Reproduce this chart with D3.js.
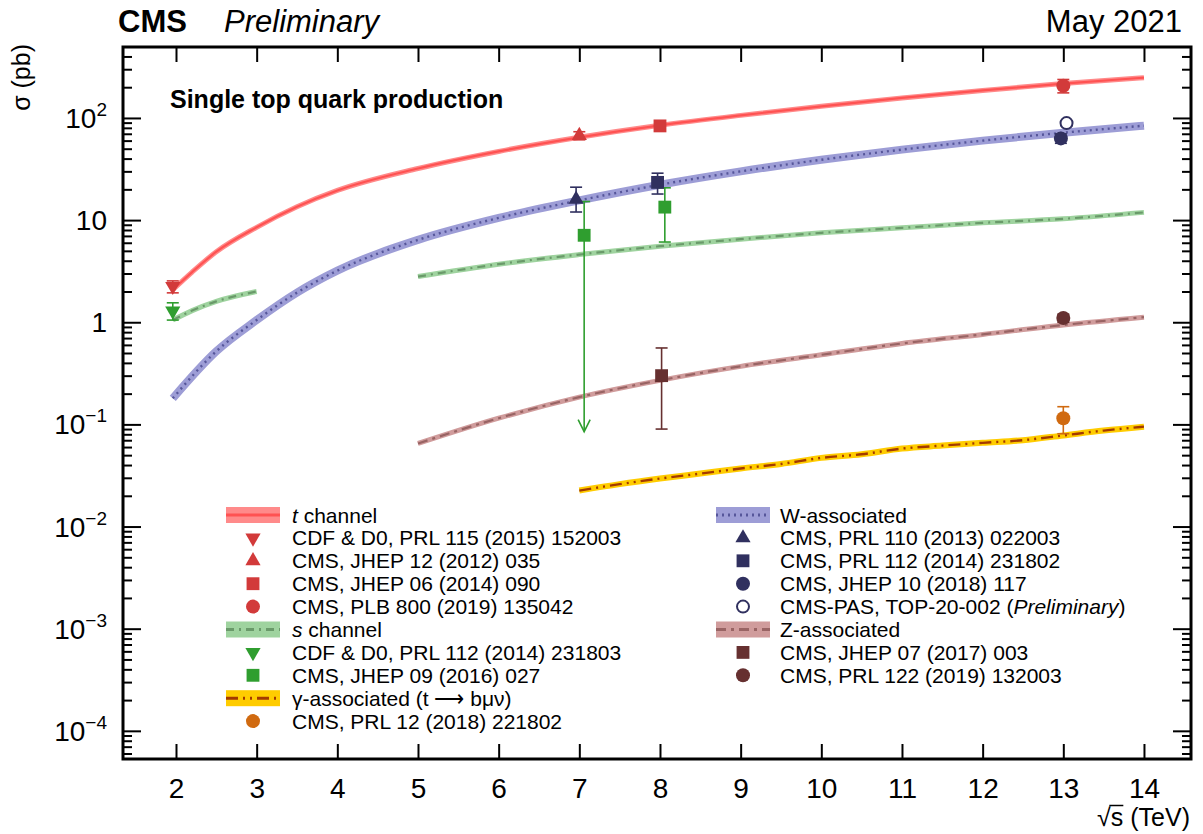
<!DOCTYPE html>
<html>
<head>
<meta charset="utf-8">
<script src="https://cdn.jsdelivr.net/npm/d3@7"></script>
<style>
	body { margin: 0; background: #fff; }
	svg { font-family: "Liberation Sans", Arial, Helvetica, sans-serif; }
</style>
</head>
<body>
<svg id="chart" width="1203" height="834"></svg>
<script>
// ---- theory predictions (pb) vs sqrt(s) (TeV)
const tchX = [1.96, 2.2, 2.5, 3, 3.5, 4, 5, 6, 7, 8, 9, 10, 11, 12, 13, 14]
const tchY = [2.08, 3.1, 4.9, 8.5, 13.5, 19.5, 32, 47, 64.6, 84.7, 106, 130, 157, 186, 217, 248]

const schLowX = [1.96, 2.2, 2.5, 3]
const schLowY = [1.05, 1.3, 1.6, 2.0]
const schX = [5, 6, 7, 8, 9, 10, 11, 12, 13, 14]
const schY = [2.8, 3.7, 4.6, 5.55, 6.5, 7.5, 8.4, 9.4, 10.3, 11.9]

const twX = [1.96, 2.5, 3, 3.5, 4, 5, 6, 7, 8, 9, 10, 11, 12, 13, 14]
const twY = [0.18, 0.52, 1.05, 1.95, 3.2, 6.4, 10.5, 15.6, 22.2, 30, 39, 49, 60, 71.7, 84]

const tzX = [5, 6, 7, 8, 9, 10, 11, 12, 13, 14]
const tzY = [0.065, 0.115, 0.185, 0.27, 0.37, 0.48, 0.62, 0.76, 0.94, 1.12]

const tgX = [7, 7.5, 8, 8.5, 9, 9.5, 10, 10.5, 11, 11.5, 12, 12.5, 13, 13.5, 14]
const tgY = [0.0225, 0.026, 0.0295, 0.033, 0.037, 0.041, 0.047, 0.051, 0.058, 0.062, 0.066, 0.07, 0.078, 0.087, 0.095]

// ---- measurements
const tchMeasX = [1.96, 7, 8, 13]
const tchMeasY = [2.25, 67.2, 83.6, 207]
const tchMeasUp = [0.29, 6.1, 7.7, 31]
const tchMeasDn = [0.31, 6.1, 7.7, 31]
const tchMarkers = ['down', 'up', 'square', 'circle']

const schMeasX = [1.96, 7.06, 8.06]
const schMeasY = [1.29, 7.1, 13.4]
const schMeasUp = [0.26, 8.1, 7.3]
const schMeasDn = [0.24, 0, 7.3]
const schArrowTo = [null, 0.085, null]
const schMarkers = ['down', 'square', 'square']

const twMeasX = [6.96, 7.97, 12.97, 13.04]
const twMeasY = [16, 23.4, 63.1, 89]
const twMeasUp = [5, 5.4, 6.6, 5]
const twMeasDn = [4, 5.4, 6.6, 5]
const twMarkers = ['up', 'square', 'circle', 'open']

const tzMeasX = [8.02, 13]
const tzMeasY = [0.3, 1.1]
const tzMeasUp = [0.26, 0.1]
const tzMeasDn = [0.21, 0.1]
const tzMarkers = ['square', 'circle']

const tgMeasX = [13]
const tgMeasY = [0.115]
const tgMeasUp = [0.034]
const tgMeasDn = [0.034]
const tgMarkers = ['circle']

const xTicks = d3.range(2, 15)
const yDecades = [1e-4, 1e-3, 1e-2, 1e-1, 1, 10, 100]
const yLabels = [['10', '\u22124'], ['10', '\u22123'], ['10', '\u22122'], ['10', '\u22121'], ['1', null], ['10', null], ['10', '2']]

const leftLegend = [
	{ band: 'tch', label: [['t', true], [' channel', false]] },
	{ marker: 'down', color: 'tch', label: [['CDF & D0, PRL 115 (2015) 152003', false]] },
	{ marker: 'up', color: 'tch', label: [['CMS, JHEP 12 (2012) 035', false]] },
	{ marker: 'square', color: 'tch', label: [['CMS, JHEP 06 (2014) 090', false]] },
	{ marker: 'circle', color: 'tch', label: [['CMS, PLB 800 (2019) 135042', false]] },
	{ band: 'sch', label: [['s', true], [' channel', false]] },
	{ marker: 'down', color: 'sch', label: [['CDF & D0, PRL 112 (2014) 231803', false]] },
	{ marker: 'square', color: 'sch', label: [['CMS, JHEP 09 (2016) 027', false]] },
	{ band: 'tg', label: [['\u03b3-associated (t \u27f6 b\u03bc\u03bd)', false]] },
	{ marker: 'circle', color: 'tg', label: [['CMS, PRL 12 (2018) 221802', false]] }
]
const rightLegend = [
	{ band: 'tw', label: [['W-associated', false]] },
	{ marker: 'up', color: 'tw', label: [['CMS, PRL 110 (2013) 022003', false]] },
	{ marker: 'square', color: 'tw', label: [['CMS, PRL 112 (2014) 231802', false]] },
	{ marker: 'circle', color: 'tw', label: [['CMS, JHEP 10 (2018) 117', false]] },
	{ marker: 'open', color: 'tw', label: [['CMS-PAS, TOP-20-002 (', false], ['Preliminary', true], [')', false]] },
	{ band: 'tz', label: [['Z-associated', false]] },
	{ marker: 'square', color: 'tz', label: [['CMS, JHEP 07 (2017) 003', false]] },
	{ marker: 'circle', color: 'tz', label: [['CMS, PRL 122 (2019) 132003', false]] }
]

const styles = {
	tch: { band: '#ff8a8a', line: '#ff5252', width: 5, lw: 2.2, dash: null, mk: '#d23a3a' },
	sch: { band: '#9fd39f', line: '#6a9a6a', width: 5, lw: 2.2, dash: '8,5,2,5', mk: '#2f9e2f' },
	tw: { band: '#9d9dd6', line: '#56569a', width: 8, lw: 2.4, dash: '2,4', mk: '#30305f' },
	tz: { band: '#d09c9c', line: '#996464', width: 5, lw: 2.2, dash: '10,5,3,5', mk: '#663030' },
	tg: { band: '#ffcc00', line: '#a33a00', width: 6, lw: 2.4, dash: '12,5,2,5,2,5', mk: '#d06a10' }
}

const svg = d3.select('#chart')
const frame = { left: 123, right: 1191, top: 47, bottom: 759 }

const x = d3.scaleLinear().domain([1.343, 14.583]).range([frame.left, frame.right])
const y = d3.scaleLog().domain([5.3e-5, 495]).range([frame.bottom, frame.top])

const plot = svg.append('g')

// ---- theory bands
function drawBand(xs, ys, key) {
	const st = styles[key]
	const data = xs.map((v, i) => [v, ys[i]])
	const line = d3.line().x(d => x(d[0])).y(d => y(d[1])).curve(d3.curveMonotoneX)
	plot.append('path').datum(data)
		.attr('fill', 'none').attr('stroke', st.band)
		.attr('stroke-width', st.width).attr('d', line)
	plot.append('path').datum(data)
		.attr('fill', 'none').attr('stroke', st.line)
		.attr('stroke-width', st.lw)
		.attr('stroke-dasharray', st.dash)
		.attr('d', line)
}

drawBand(twX, twY, 'tw')
drawBand(tchX, tchY, 'tch')
drawBand(schLowX, schLowY, 'sch')
drawBand(schX, schY, 'sch')
drawBand(tzX, tzY, 'tz')
drawBand(tgX, tgY, 'tg')

// ---- markers
function drawMarker(g, type, cx, cy, color) {
	if (type === 'circle' || type === 'open') {
		g.append('circle').attr('cx', cx).attr('cy', cy).attr('r', type === 'open' ? 6 : 7)
			.attr('fill', type === 'open' ? '#fff' : color)
			.attr('stroke', color).attr('stroke-width', type === 'open' ? 2 : 0)
	} else if (type === 'square') {
		g.append('path').attr('d', d3.symbol(d3.symbolSquare, 165)())
			.attr('transform', `translate(${cx},${cy})`).attr('fill', color)
	} else {
		g.append('path').attr('d', d3.symbol(d3.symbolTriangle, 100)())
			.attr('transform', `translate(${cx},${cy}) rotate(${type === 'down' ? 180 : 0})`)
			.attr('fill', color)
	}
}

function drawMeasurements(xs, ys, up, dn, markers, key, arrows) {
	const color = styles[key].mk
	xs.forEach((v, i) => {
		const g = plot.append('g')
		const cx = x(v)
		const top = y(ys[i] + up[i])
		const arrowTo = arrows ? arrows[i] : null
		const bot = arrowTo ? y(arrowTo) : y(ys[i] - dn[i])
		g.append('line').attr('x1', cx).attr('x2', cx).attr('y1', top).attr('y2', bot)
			.attr('stroke', color).attr('stroke-width', 1.6)
		g.append('line').attr('x1', cx - 6).attr('x2', cx + 6).attr('y1', top).attr('y2', top)
			.attr('stroke', color).attr('stroke-width', 1.6)
		if (arrowTo) {
			g.append('path').attr('d', `M${cx - 6},${bot - 12}L${cx},${bot}L${cx + 6},${bot - 12}`)
				.attr('fill', 'none').attr('stroke', color).attr('stroke-width', 1.6)
		} else {
			g.append('line').attr('x1', cx - 6).attr('x2', cx + 6).attr('y1', bot).attr('y2', bot)
				.attr('stroke', color).attr('stroke-width', 1.6)
		}
		drawMarker(g, markers[i], cx, y(ys[i]), color)
	})
}

drawMeasurements(tchMeasX, tchMeasY, tchMeasUp, tchMeasDn, tchMarkers, 'tch')
drawMeasurements(schMeasX, schMeasY, schMeasUp, schMeasDn, schMarkers, 'sch', schArrowTo)
drawMeasurements(twMeasX, twMeasY, twMeasUp, twMeasDn, twMarkers, 'tw')
drawMeasurements(tzMeasX, tzMeasY, tzMeasUp, tzMeasDn, tzMarkers, 'tz')
drawMeasurements(tgMeasX, tgMeasY, tgMeasUp, tgMeasDn, tgMarkers, 'tg')

// ---- axes (ticks pointing inside the frame)
const yMinor = []
for (let e = -5; e <= 2; e++) for (let m = 2; m <= 9; m++) {
	const v = m * Math.pow(10, e)
	if (v > y.domain()[0] && v < y.domain()[1]) yMinor.push(v)
}

function styleAxis(g) {
	g.select('.domain').remove()
	g.selectAll('.tick line').attr('stroke', '#000').attr('stroke-width', 2)
}

svg.append('g').attr('transform', `translate(0,${frame.bottom})`)
	.call(d3.axisBottom(x).tickValues(xTicks).tickSize(-15).tickPadding(19))
	.call(styleAxis)
	.call(g => g.selectAll('text').attr('font-size', 28).attr('fill', '#000')
		.attr('font-family', '"Liberation Sans", Arial, sans-serif'))
svg.append('g').attr('transform', `translate(0,${frame.top})`)
	.call(d3.axisTop(x).tickValues(xTicks).tickSize(-15).tickFormat(''))
	.call(styleAxis)

svg.append('g').attr('transform', `translate(${frame.left},0)`)
	.call(d3.axisLeft(y).tickValues(yDecades).tickSize(-18).tickFormat(''))
	.call(styleAxis)
svg.append('g').attr('transform', `translate(${frame.left},0)`)
	.call(d3.axisLeft(y).tickValues(yMinor).tickSize(-9).tickFormat(''))
	.call(styleAxis)
svg.append('g').attr('transform', `translate(${frame.right},0)`)
	.call(d3.axisRight(y).tickValues(yDecades).tickSize(-18).tickFormat(''))
	.call(styleAxis)
svg.append('g').attr('transform', `translate(${frame.right},0)`)
	.call(d3.axisRight(y).tickValues(yMinor).tickSize(-9).tickFormat(''))
	.call(styleAxis)

// y tick labels with superscripts
yDecades.forEach((v, i) => {
	const t = svg.append('text').attr('x', 107).attr('y', y(v) + 10)
		.attr('text-anchor', 'end').attr('font-size', 28)
	t.append('tspan').text(yLabels[i][0])
	if (yLabels[i][1]) {
		t.append('tspan').attr('font-size', 19).attr('dy', -12).text(yLabels[i][1])
	}
})

// frame
svg.append('rect')
	.attr('x', frame.left).attr('y', frame.top)
	.attr('width', frame.right - frame.left).attr('height', frame.bottom - frame.top)
	.attr('fill', 'none').attr('stroke', '#000').attr('stroke-width', 3)

// ---- titles
svg.append('text').attr('x', 118).attr('y', 32).attr('font-size', 31).attr('font-weight', 'bold').text('CMS')
svg.append('text').attr('x', 224).attr('y', 32).attr('font-size', 31).attr('font-style', 'italic').text('Preliminary')
svg.append('text').attr('x', 1182).attr('y', 32).attr('font-size', 31).attr('text-anchor', 'end').text('May 2021')
svg.append('text').attr('x', 170).attr('y', 108).attr('font-size', 25).attr('font-weight', 'bold')
	.text('Single top quark production')

// x title: radical with a bar over the s
const xt = svg.append('text').attr('x', 1190).attr('y', 826).attr('font-size', 25).attr('text-anchor', 'end')
	.text('\u221as (TeV)')
const rad = xt.node().getExtentOfChar(0)
const sch = xt.node().getExtentOfChar(1)
svg.append('line')
	.attr('x1', rad.x + rad.width - 1.5).attr('x2', sch.x + sch.width)
	.attr('y1', rad.y + 2.5).attr('y2', rad.y + 2.5)
	.attr('stroke', '#000').attr('stroke-width', 1.5)

svg.append('text').attr('transform', 'translate(30,44) rotate(-90)')
	.attr('font-size', 25).attr('text-anchor', 'end').text('\u03c3 (pb)')

// ---- legends
function drawLegend(entries, bandX, markerX, textX, y0, step) {
	entries.forEach((e, i) => {
		const cy = y0 + i * step
		const g = svg.append('g')
		if (e.band) {
			const st = styles[e.band]
			g.append('rect').attr('x', bandX).attr('y', cy - 8).attr('width', 54).attr('height', 16)
				.attr('fill', st.band)
			g.append('line').attr('x1', bandX).attr('x2', bandX + 54).attr('y1', cy).attr('y2', cy)
				.attr('stroke', st.line).attr('stroke-width', 3).attr('stroke-dasharray', st.dash)
		} else {
			drawMarker(g, e.marker, markerX, cy, styles[e.color].mk)
		}
		const t = g.append('text').attr('x', textX).attr('y', cy + 7.5).attr('font-size', 21)
		e.label.forEach(p => t.append('tspan').attr('font-style', p[1] ? 'italic' : 'normal').text(p[0]))
	})
}

drawLegend(leftLegend, 226, 253, 292, 515, 22.9)
drawLegend(rightLegend, 716, 743, 780, 515, 22.9)
</script>
</body>
</html>
